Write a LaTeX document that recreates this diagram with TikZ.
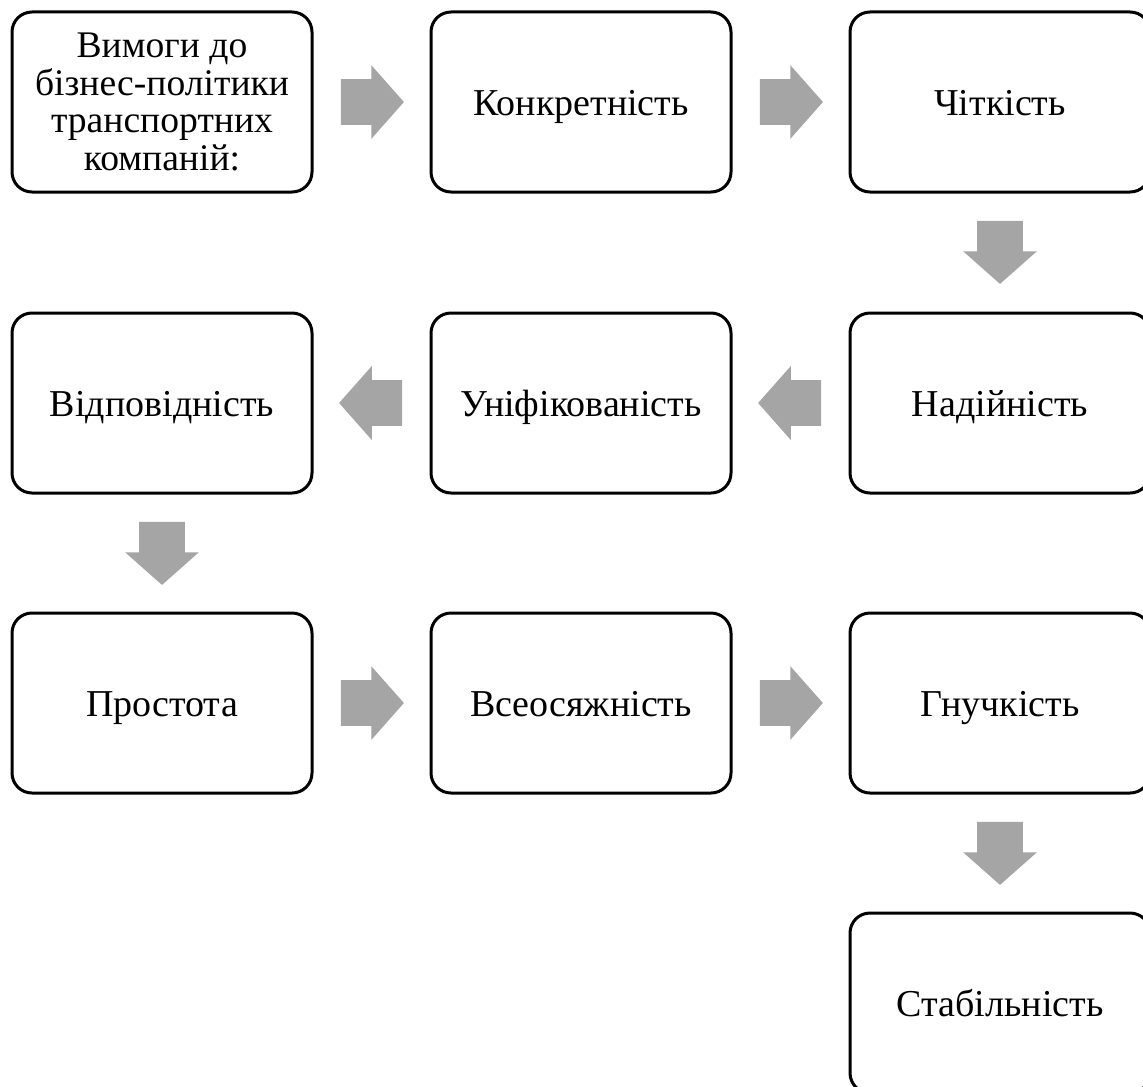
\documentclass[tikz,border=0pt]{standalone}
\usepackage{fontspec}
\setmainfont{Liberation Serif}
\usetikzlibrary{shapes.arrows,calc}
\definecolor{arrowgray}{RGB}{165,165,165}
\begin{document}
\begin{tikzpicture}[x=0.5pt,y=-0.5pt]
% Requirements flow, drawn in pixel units (y grows downwards)
\providecommand{\reqLineWidth}{1.5pt}
\providecommand{\reqRadius}{10pt}
\providecommand{\reqGap}{13.5pt}
\tikzset{
  reqbox/.style={draw=black, line width=\reqLineWidth, rounded corners=\reqRadius,
    minimum width=150pt, minimum height=90pt, inner sep=0pt, align=center,
    font=\fontsize{19}{22}\selectfont, text height=14pt, text depth=1pt},
  blockarrow/.style={single arrow, fill=arrowgray, draw=none, minimum height=31.5pt,
    inner xsep=0pt, inner ysep=11.25pt, single arrow head extend=7pt,
    single arrow tip angle=97, single arrow head indent=0pt, anchor=tail},
}
\useasboundingbox (0,0) rectangle (1143,1086);
\clip (0,0) rectangle (1143,1086);
% Boxes
\node[reqbox, font=\fontsize{18.8}{18.75}\selectfont, text height=, text depth=] (req) at (162,102)
  {Вимоги до\\бізнес-політики\\транспортних\\компаній:};
\node[reqbox] (konk) at (581,102) {Конкретність};
\node[reqbox] (chit) at (1000,102) {Чіткість};
\node[reqbox] (nad) at (1000,403) {Надійність};
\node[reqbox] (unif) at (581,403) {Уніфікованість};
\node[reqbox] (vidp) at (162,403) {Відповідність};
\node[reqbox] (prost) at (162,703) {Простота};
\node[reqbox] (vseo) at (581,703) {Всеосяжність};
\node[reqbox] (gnuch) at (1000,703) {Гнучкість};
\node[reqbox] (stab) at (1000,1003) {Стабільність};
% Block arrows between boxes (tail a little off the source box)
\node[blockarrow] (a1) at ($(req.east)!\reqGap!(konk.west)$) {};
\node[blockarrow] (a2) at ($(konk.east)!\reqGap!(chit.west)$) {};
\node[blockarrow, rotate=-90] (a3) at ($(chit.south)!\reqGap!(nad.north)$) {};
\node[blockarrow, rotate=180] (a4) at ($(nad.west)!\reqGap!(unif.east)$) {};
\node[blockarrow, rotate=180] (a5) at ($(unif.west)!\reqGap!(vidp.east)$) {};
\node[blockarrow, rotate=-90] (a6) at ($(vidp.south)!\reqGap!(prost.north)$) {};
\node[blockarrow] (a7) at ($(prost.east)!\reqGap!(vseo.west)$) {};
\node[blockarrow] (a8) at ($(vseo.east)!\reqGap!(gnuch.west)$) {};
\node[blockarrow, rotate=-90] (a9) at ($(gnuch.south)!\reqGap!(stab.north)$) {};
\end{tikzpicture}
\end{document}
